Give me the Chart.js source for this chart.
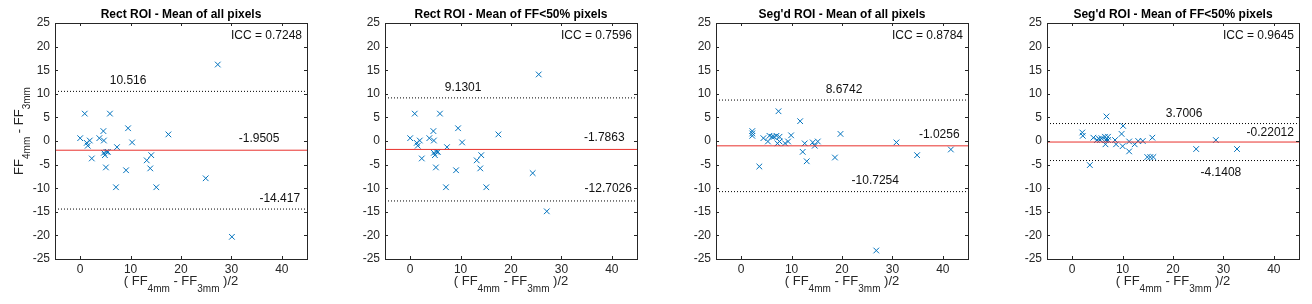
<!DOCTYPE html>
<html>
<head>
<meta charset="utf-8">
<script src="https://cdn.jsdelivr.net/npm/chart.js@4/dist/chart.umd.min.js"></script>
<style>
  body { margin: 0; background: #fff; width: 1312px; height: 304px; overflow: hidden; position: relative; }
  canvas { position: absolute; top: 0; }
</style>
</head>
<body>
<canvas id="c0" width="317" height="304" style="left:0px"></canvas>
<canvas id="c1" width="317" height="304" style="left:330px"></canvas>
<canvas id="c2" width="317" height="304" style="left:661px"></canvas>
<canvas id="c3" width="317" height="304" style="left:992px"></canvas>
<script>
// axis ticks
var xTicks = [0, 10, 20, 30, 40];
var yTicks = [-25, -20, -15, -10, -5, 0, 5, 10, 15, 20, 25];

// panel titles and ICC values
var titles = ['Rect ROI - Mean of all pixels', 'Rect ROI - Mean of FF<50% pixels',
              "Seg'd ROI - Mean of all pixels", "Seg'd ROI - Mean of FF<50% pixels"];
var iccs = ['0.7248', '0.7596', '0.8784', '0.9645'];

// bias and limits of agreement: [upper, mean, lower]
var limits = [
  [10.516, -1.9505, -14.417],
  [9.1301, -1.7863, -12.7026],
  [8.6742, -1.0256, -10.7254],
  [3.7006, -0.22012, -4.1408]
];

// Rect ROI - all pixels
var rectAllX = [0, 0.9, 1.3, 1.5, 1.9, 2.3, 3.8, 4.6, 4.7, 4.7, 4.9, 5.1, 5.2, 5.5, 5.9, 7.3, 7.1, 9.1, 9.5, 10.3, 13.2, 14.1, 13.9, 15.1, 17.5, 24.9, 27.3, 30.1];
var rectAllY = [0.6, 5.8, -0.4, -1.0, 0.1, -3.7, 0.6, 2.1, 0.1, -2.5, -3.0, -5.6, -2.3, -2.3, 5.8, -1.3, -9.8, -6.2, 2.7, -0.3, -4.1, -3.0, -5.8, -9.8, 1.4, -7.9, 16.2, -20.3];

// Rect ROI - FF<50% pixels
var rectLowX = [0, 0.9, 1.3, 1.5, 1.9, 2.3, 3.8, 4.6, 4.7, 4.7, 4.9, 5.1, 5.2, 5.5, 5.9, 7.3, 7.1, 9.1, 9.5, 10.3, 13.2, 14.1, 13.9, 15.1, 17.5, 24.3, 25.5, 27.1];
var rectLowY = [0.6, 5.8, -0.4, -1.0, 0.1, -3.7, 0.6, 2.1, 0.1, -2.5, -3.0, -5.6, -2.3, -2.3, 5.8, -1.3, -9.8, -6.2, 2.7, -0.3, -4.1, -3.0, -5.8, -9.8, 1.4, -6.8, 14.1, -14.9];

// Seg'd ROI - all pixels
var segAllX = [2.2, 2.2, 2.2, 3.6, 4.4, 5.3, 5.6, 6.1, 6.5, 7.0, 7.4, 7.2, 7.6, 7.6, 8.7, 9.3, 9.9, 11.7, 12.2, 12.6, 13.0, 14.2, 14.6, 15.2, 18.6, 19.7, 30.8, 34.9, 41.6, 26.8];
var segAllY = [2.1, 1.6, 1.1, -5.4, 0.6, -0.1, 1.1, 0.9, 0.9, 1.1, 6.3, -0.5, 0.9, -0.1, -0.5, -0.1, 1.2, 4.2, -2.3, -0.5, -4.3, -0.3, -1.0, -0.1, -3.5, 1.5, -0.3, -3.0, -1.8, -23.2];

// Seg'd ROI - FF<50% pixels
var segLowX = [2.0, 2.1, 4.2, 3.5, 4.9, 5.3, 5.5, 5.8, 6.5, 6.6, 6.7, 6.8, 7.1, 7.1, 8.5, 8.7, 9.8, 10.1, 10.0, 11.3, 11.3, 12.4, 13.1, 14.0, 14.9, 15.9, 15.5, 16.1, 24.6, 28.5, 32.7];
var segLowY = [1.8, 1.1, 0.7, -5.1, 0.2, 0.5, 0.2, 0.6, 0.9, -0.7, 0.2, 5.2, 0.9, 0.2, 0.2, -0.7, 1.5, 3.2, -1.1, -0.1, -2.2, -0.7, 0, 0, -3.4, 0.7, -3.4, -3.4, -1.7, 0.2, -1.7];

var panelX = [rectAllX, rectLowX, segAllX, segLowX];
var panelY = [rectAllY, rectLowY, segAllY, segLowY];

// where the value labels sit (data units): [upper, mean, lower]
var labelPos = [
  [[9.5, 12.7], [35.5, 0.5], [39.6, -12.3]],
  [[10.5, 11.3], [38.5, 0.7], [39.3, -10.2]],
  [[20.4, 10.8], [39.3, 1.3], [26.6, -8.5]],
  [[22.2, 5.8], [39.3, 1.8], [29.5, -6.7]]
];

var FONT = '"Liberation Sans", Arial, Helvetica, sans-serif';
var AX = '#262626';

// draws text with subscripts, returns the width
function subText(ctx, parts, x, y, measureOnly) {
  var w = 0;
  parts.forEach(function (p) {
    ctx.font = (p.sub ? '10px ' : '13px ') + FONT;
    if (!measureOnly) ctx.fillText(p.t, x + w, y + (p.sub ? 7 : 0));
    w += ctx.measureText(p.t).width;
  });
  return w;
}

var axesPlugin = {
  id: 'matlabAxes',
  afterDraw: function (chart) {
    var ctx = chart.ctx, a = chart.chartArea;
    var xs = chart.scales.x, ys = chart.scales.y;
    var i = chart.options.plugins.matlabAxes.index;
    ctx.save();
    // box
    ctx.strokeStyle = AX;
    ctx.lineWidth = 1;
    ctx.strokeRect(Math.round(a.left) + 0.5, Math.round(a.top) + 0.5, Math.round(a.right - a.left), Math.round(a.bottom - a.top));
    // inward ticks on all four sides
    ctx.beginPath();
    xTicks.forEach(function (v) {
      var px = Math.round(xs.getPixelForValue(v)) + 0.5;
      ctx.moveTo(px, a.bottom); ctx.lineTo(px, a.bottom - 3);
      ctx.moveTo(px, a.top); ctx.lineTo(px, a.top + 3);
    });
    yTicks.forEach(function (v) {
      var py = Math.round(ys.getPixelForValue(v)) + 0.5;
      ctx.moveTo(a.left, py); ctx.lineTo(a.left + 3, py);
      ctx.moveTo(a.right, py); ctx.lineTo(a.right - 3, py);
    });
    ctx.stroke();

    // title
    ctx.fillStyle = '#000';
    ctx.font = 'bold 12px ' + FONT;
    ctx.textAlign = 'center';
    ctx.textBaseline = 'alphabetic';
    ctx.fillText(titles[i], (a.left + a.right) / 2, 18);

    // ICC text
    ctx.font = '12px ' + FONT;
    ctx.textAlign = 'right';
    ctx.fillStyle = '#111';
    ctx.fillText('ICC = ' + iccs[i], a.right - 5, ys.getPixelForValue(22.5) + 4);

    // value labels
    ctx.textAlign = 'center';
    ctx.textBaseline = 'middle';
    labelPos[i].forEach(function (p, k) {
      ctx.fillText(String(limits[i][k]), xs.getPixelForValue(p[0]), ys.getPixelForValue(p[1]));
    });

    // x axis title
    ctx.fillStyle = '#262626';
    ctx.textAlign = 'left';
    ctx.textBaseline = 'alphabetic';
    var xParts = [{t: '( FF'}, {t: '4mm', sub: true}, {t: ' - FF'}, {t: '3mm', sub: true}, {t: ' )/2'}];
    var w = subText(ctx, xParts, 0, 0, true);
    subText(ctx, xParts, (a.left + a.right) / 2 - w / 2, 285, false);

    // y axis title (first panel only)
    if (i === 0) {
      var yParts = [{t: 'FF'}, {t: '4mm', sub: true}, {t: ' - FF'}, {t: '3mm', sub: true}];
      var wy = subText(ctx, yParts, 0, 0, true);
      ctx.translate(23, 131);
      ctx.rotate(-Math.PI / 2);
      subText(ctx, yParts, -wy / 2, 0, false);
    }
    ctx.restore();
  }
};

function makeChart(i) {
  var pts = panelX[i].map(function (x, k) { return {x: x, y: panelY[i][k]}; });
  var lim = limits[i];
  function hline(v) { return [{x: -5, y: v}, {x: 45, y: v}]; }
  new Chart(document.getElementById('c' + i), {
    type: 'scatter',
    data: {
      datasets: [{
        type: 'line',
        data: hline(lim[0]),
        borderColor: '#000',
        borderWidth: 1,
        borderDash: [1, 2],
        pointRadius: 0
      }, {
        type: 'line',
        data: hline(lim[2]),
        borderColor: '#000',
        borderWidth: 1,
        borderDash: [1, 2],
        pointRadius: 0
      }, {
        type: 'line',
        data: hline(lim[1]),
        borderColor: '#e8312c',
        borderWidth: 1,
        pointRadius: 0
      }, {
        data: pts,
        pointStyle: 'crossRot',
        pointRadius: 4,
        borderColor: 'rgb(0,114,189)',
        backgroundColor: 'rgb(0,114,189)',
        borderWidth: 1
      }]
    },
    options: {
      responsive: false,
      animation: false,
      events: [],
      layout: { padding: { top: 23, right: 10, left: 0, bottom: 0 } },
      plugins: { legend: { display: false }, tooltip: { enabled: false }, matlabAxes: { index: i } },
      scales: {
        x: {
          type: 'linear', min: -5, max: 45,
          afterBuildTicks: function (s) { s.ticks = xTicks.map(function (v) { return {value: v}; }); },
          afterFit: function (s) { s.height = 45; },
          grid: { display: false, drawTicks: false },
          border: { display: false },
          ticks: { color: '#262626', font: { family: FONT, size: 12 }, padding: 3, maxRotation: 0 }
        },
        y: {
          type: 'linear', min: -25, max: 25,
          afterBuildTicks: function (s) { s.ticks = yTicks.map(function (v) { return {value: v}; }); },
          afterFit: function (s) { s.width = 55; },
          grid: { display: false, drawTicks: false },
          border: { display: false },
          ticks: { color: '#262626', font: { family: FONT, size: 12 }, padding: 5 }
        }
      }
    },
    plugins: [axesPlugin]
  });
}

[0, 1, 2, 3].forEach(makeChart);
</script>
</body>
</html>
